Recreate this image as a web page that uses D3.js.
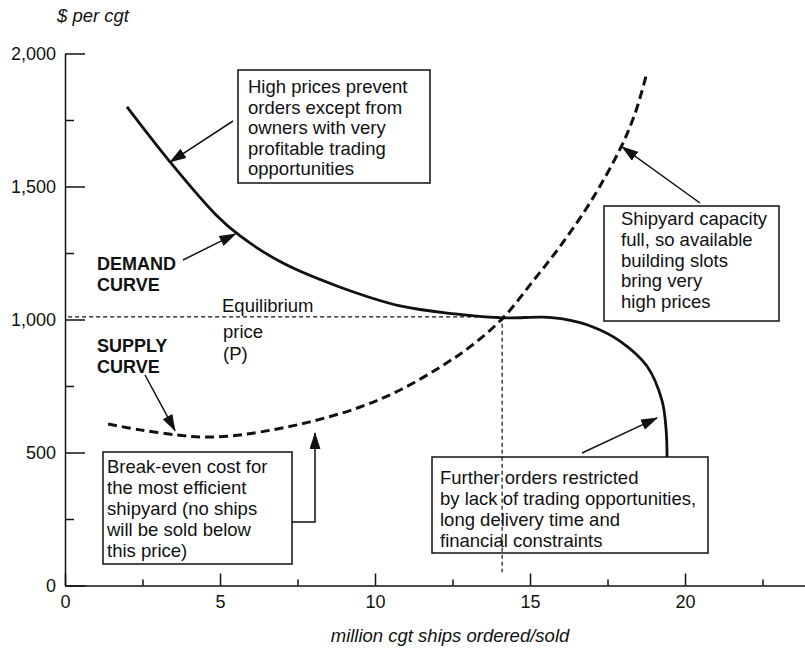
<!DOCTYPE html>
<html>
<head>
<meta charset="utf-8">
<script src="https://cdn.jsdelivr.net/npm/d3@7"></script>
<style>
  body { margin: 0; background: #fff; }
  text { font-family: "Liberation Sans", Arial, Helvetica, sans-serif; fill: #111; }
</style>
</head>
<body>
<svg id="chart" width="805" height="650"></svg>
<script>

// ---- data ----
// demand curve (million cgt, $ per cgt)
var demandQty   = [2.0, 3.39, 4.84, 5.65, 7.03, 8.77, 10.81, 12.58, 14.13, 15.42, 16.06, 17.03, 17.9, 18.77, 19.26, 19.39, 19.42];
var demandPrice = [1799, 1592, 1397, 1314, 1212, 1126, 1051, 1021, 1006, 1009, 1002, 972, 919, 825, 694, 585, 483];

// supply curve
var supplyQty   = [1.39, 2.42, 3.61, 4.45, 5.32, 6.29, 7.9, 9.52, 10.81, 12.1, 13.06, 14.13, 15.1, 15.97, 16.94, 17.9, 18.39, 18.77];
var supplyPrice = [607, 585, 566, 558, 562, 577, 615, 671, 735, 821, 897, 1006, 1145, 1275, 1440, 1640, 1775, 1927];

// equilibrium point
var eqQty = 14.1, eqPrice = 1010;

// axis ticks
var qtyTicks = [0, 5, 10, 15, 20],
    qtyMinor = [2.5, 7.5, 12.5, 17.5, 22.5],
    priceTicks = [0, 500, 1000, 1500, 2000],
    priceMinor = [250, 750, 1250, 1750];


var svg = d3.select("#chart"),
    width = +svg.attr("width"),
    height = +svg.attr("height");

var x = d3.scaleLinear().domain([0, 23.87]).range([65, 805]),
    y = d3.scaleLinear().domain([0, 2000]).range([585.5, 53.5]);

var fmt = d3.format(",");

// arrow head
svg.append("defs").append("marker")
    .attr("id", "head")
    .attr("viewBox", "0 0 17 11")
    .attr("refX", 16)
    .attr("refY", 5.5)
    .attr("markerWidth", 17)
    .attr("markerHeight", 11)
    .attr("markerUnits", "userSpaceOnUse")
    .attr("orient", "auto")
  .append("path")
    .attr("d", "M0,0 L17,5.5 L0,11 Z")
    .attr("fill", "#111");

// ---- axes ----
svg.append("g")
    .attr("transform", "translate(0," + y(0) + ")")
    .call(d3.axisBottom(x).tickValues(qtyTicks).tickSize(-12).tickSizeOuter(0)
          .tickPadding(10).tickFormat(d3.format("d")));

svg.append("g")
    .attr("transform", "translate(0," + y(0) + ")")
    .call(d3.axisBottom(x).tickValues(qtyMinor).tickSize(-6).tickSizeOuter(0).tickFormat(""))
    .select(".domain").remove();

svg.append("g")
    .attr("transform", "translate(" + x(0) + ",0)")
    .call(d3.axisLeft(y).tickValues(priceTicks).tickSize(-20).tickSizeOuter(0)
          .tickPadding(9).tickFormat(fmt));

svg.append("g")
    .attr("transform", "translate(" + x(0) + ",0)")
    .call(d3.axisLeft(y).tickValues(priceMinor).tickSize(-9).tickSizeOuter(0).tickFormat(""))
    .select(".domain").remove();

svg.selectAll(".domain, .tick line")
    .attr("stroke", "#111")
    .attr("stroke-width", 1.5);

svg.selectAll(".tick text")
    .attr("font-size", "18px")
    .attr("font-family", "Liberation Sans, Arial, sans-serif")
    .attr("fill", "#111");

// axis titles
svg.append("text")
    .attr("x", 57).attr("y", 22)
    .attr("font-size", "18.5px")
    .attr("font-style", "italic")
    .text("$ per cgt");

svg.append("text")
    .attr("x", 450).attr("y", 642)
    .attr("text-anchor", "middle")
    .attr("font-size", "18.5px")
    .attr("font-style", "italic")
    .text("million cgt ships ordered/sold");

// ---- equilibrium guide lines ----
svg.append("line")
    .attr("x1", x(0.1)).attr("x2", x(eqQty))
    .attr("y1", y(eqPrice)).attr("y2", y(eqPrice))
    .attr("stroke", "#111").attr("stroke-width", 1.2)
    .attr("stroke-dasharray", "4,3");

svg.append("line")
    .attr("x1", x(eqQty)).attr("x2", x(eqQty))
    .attr("y1", y(eqPrice)).attr("y2", y(50))
    .attr("stroke", "#111").attr("stroke-width", 1.2)
    .attr("stroke-dasharray", "4,3");

// ---- curves ----
var line = d3.line()
    .x(function(d) { return x(d[0]); })
    .y(function(d) { return y(d[1]); })
    .curve(d3.curveCatmullRom.alpha(0.5));

svg.append("path")
    .datum(d3.zip(demandQty, demandPrice))
    .attr("d", line)
    .attr("fill", "none")
    .attr("stroke", "#111")
    .attr("stroke-width", 2.8)
    .attr("stroke-linejoin", "round");

svg.append("path")
    .datum(d3.zip(supplyQty, supplyPrice))
    .attr("d", line)
    .attr("fill", "none")
    .attr("stroke", "#111")
    .attr("stroke-width", 3)
    .attr("stroke-dasharray", "9,5");

// ---- text boxes ----
var boxes = [
  {x: 238, y: 70, w: 192, h: 113, tx: 248, ty: 93, lh: 20.5,
   lines: ["High prices prevent", "orders except from", "owners with very",
           "profitable trading", "opportunities"]},
  {x: 103, y: 452, w: 189, h: 112, tx: 107, ty: 473, lh: 21,
   lines: ["Break-even cost for", "the most efficient", "shipyard (no ships",
           "will be sold below", "this price)"]},
  {x: 604, y: 206, w: 175, h: 115, tx: 621, ty: 225, lh: 20.8,
   lines: ["Shipyard capacity", "full, so available", "building slots",
           "bring very", "high prices"]},
  {x: 432, y: 457, w: 276, h: 96, tx: 440, ty: 484, lh: 21,
   lines: ["Further orders restricted", "by lack of trading opportunities,",
           "long delivery time and", "financial constraints"]}
];

var box = svg.append("g").selectAll("g")
    .data(boxes)
  .enter().append("g");

box.append("rect")
    .attr("x", function(d) { return d.x; })
    .attr("y", function(d) { return d.y; })
    .attr("width", function(d) { return d.w; })
    .attr("height", function(d) { return d.h; })
    .attr("fill", "none")
    .attr("stroke", "#111")
    .attr("stroke-width", 1.5);

box.append("text")
    .attr("font-size", "18.5px")
    .each(function(d) {
        d3.select(this).selectAll("tspan")
            .data(d.lines)
          .enter().append("tspan")
            .attr("x", d.tx)
            .attr("y", function(t, i) { return d.ty + i * d.lh; })
            .text(function(t) { return t; });
    });

// ---- curve labels ----
var labels = [
  {x: 97, y: 270, text: "DEMAND", bold: true},
  {x: 97, y: 291, text: "CURVE", bold: true},
  {x: 97, y: 352, text: "SUPPLY", bold: true},
  {x: 97, y: 373, text: "CURVE", bold: true},
  {x: 222, y: 312, text: "Equilibrium", bold: false},
  {x: 223, y: 338, text: "price", bold: false},
  {x: 223, y: 360, text: "(P)", bold: false}
];

svg.append("g").selectAll("text")
    .data(labels)
  .enter().append("text")
    .attr("x", function(d) { return d.x; })
    .attr("y", function(d) { return d.y; })
    .attr("font-size", function(d) { return d.bold ? "18px" : "18.5px"; })
    .attr("font-weight", function(d) { return d.bold ? "bold" : "normal"; })
    .text(function(d) { return d.text; });

// ---- arrows: tail in page layout, tip on the curve (data units) ----
var arrows = [
  {from: [[233, 121]], tip: [3.39, 1592]},
  {from: [[183, 260]], tip: [5.5, 1322]},
  {from: [[145, 375]], tip: [3.55, 582]},
  {from: [[700, 203]], tip: [17.97, 1649]},
  {from: [[582, 453]], tip: [19.1, 630]},
  {from: [[292, 522], [315, 522]], tip: [8.06, 573]}
];

svg.append("g").selectAll("path")
    .data(arrows)
  .enter().append("path")
    .attr("d", function(d) {
        var pts = d.from.map(function(p) { return p.slice(); });
        var tip = [x(d.tip[0]), y(d.tip[1])];
        // bent arrow goes straight up from its corner
        if (pts.length > 1) { tip[0] = pts[pts.length - 1][0]; }
        pts.push(tip);
        return "M" + pts.join("L");
    })
    .attr("fill", "none")
    .attr("stroke", "#111")
    .attr("stroke-width", 1.5)
    .attr("marker-end", "url(#head)");

</script>
</body>
</html>
